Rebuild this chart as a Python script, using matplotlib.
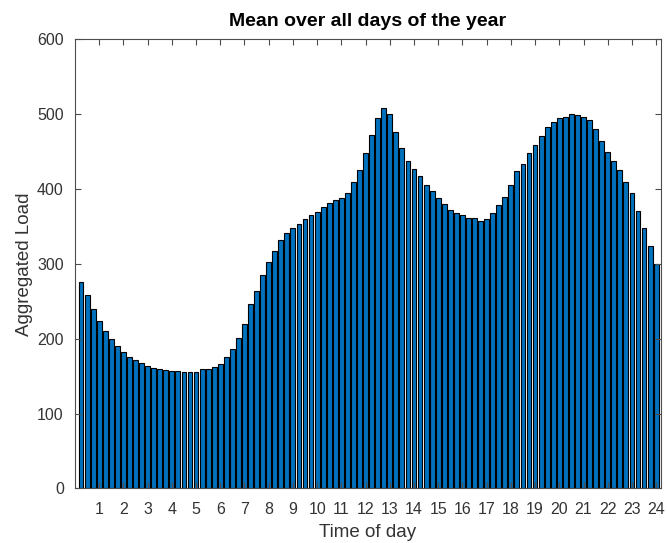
import matplotlib
matplotlib.use("Agg")
import matplotlib.pyplot as plt
import numpy as np

# mean aggregated load per 15-minute slot (96 slots)
load = [
    276, 258, 240, 224, 210, 200, 190, 182, 176, 172, 168, 164, 161, 160, 158, 157,
    157, 156, 156, 156, 159, 159, 163, 166, 176, 187, 201, 220, 246, 264, 285, 302,
    318, 332, 341, 348, 353, 360, 365, 369, 376, 381, 385, 388, 395, 410, 425, 448,
    473, 495, 509, 500, 476, 455, 437, 427, 418, 406, 398, 388, 380, 372, 368, 365,
    362, 361, 358, 360, 368, 379, 390, 405, 424, 434, 448, 459, 471, 483, 490, 495,
    497, 500, 499, 497, 492, 480, 464, 449, 437, 425, 409, 395, 371, 348, 324, 300,
]
hours = np.arange(1, 97) / 4
hour_ticks = list(range(1, 25))
load_ticks = list(range(0, 601, 100))

plt.rcParams["font.family"] = ["Liberation Sans", "DejaVu Sans"]

fig = plt.figure(figsize=(6.67, 5.43), dpi=100)
ax = fig.add_axes([0.1124, 0.1004, 0.8786, 0.8269])

ax.bar(hours, load, width=0.8 * 0.25, color="#0072BD", edgecolor="black", linewidth=0.8)

ax.set_xlim(0, 24.2)
ax.set_ylim(0, 600)
ax.set_xticks(hour_ticks)
ax.set_yticks(load_ticks)

edge = "#333333"
for side in ax.spines.values():
    side.set_color("#4d4d4d")
    side.set_linewidth(0.8)
ax.tick_params(direction="in", length=4, width=0.8, colors="#4d4d4d", labelcolor=edge,
               labelsize=11.5, top=True, right=True)
ax.tick_params(axis="x", pad=10)
ax.tick_params(axis="y", pad=8)

ax.set_xlabel("Time of day", fontsize=13.5, color=edge, labelpad=5)
ax.set_ylabel("Aggregated Load", fontsize=13.5, color=edge, labelpad=3)
ax.set_title("Mean over all days of the year", fontsize=14, fontweight="bold", color="black", pad=10)

fig.savefig("out.png", dpi=100)
